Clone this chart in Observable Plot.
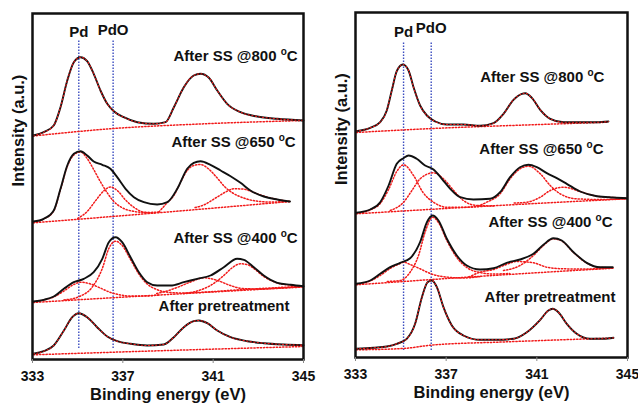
<!DOCTYPE html>
<html><head><meta charset="utf-8">
<script src="https://cdn.jsdelivr.net/npm/d3@7"></script>
<script src="https://cdn.jsdelivr.net/npm/@observablehq/plot@0.6"></script>
<style>
body{margin:0;background:#fff;}
#wrap{position:relative;width:638px;height:407px;overflow:hidden;font-family:"Liberation Sans",Arial,sans-serif;}
#wrap svg{position:absolute;top:0;overflow:visible;background:transparent;}
#wrap text{font-weight:bold;}
</style></head><body><div id="wrap"></div>
<script>
// ---- Left panel: spectra [binding energy eV, intensity a.u.] ----
const L800 = [[333.03,224],[333.5,227.3],[333.94,234],[334.24,252.3],[334.54,279],[334.83,297.3],[335.13,302.3],[335.42,298.3],[335.71,285.7],[336.01,269],[336.31,255.7],[336.6,248.3],[337.04,242.3],[337.64,237.3],[338.37,235.7],[338.89,237.3],[339.26,252.3],[339.7,272.3],[340.14,284],[340.44,285.7],[340.81,281.7],[341.18,269],[341.62,255.7],[342.21,247.3],[342.95,243],[343.84,240.7],[345,239]];
const L800base = [[333.03,223.5],[336.6,231],[340.4,235.5],[345,239]];
const L650 = [[333.03,138],[333.5,140.7],[333.94,149],[334.24,170.7],[334.54,194],[334.83,205.7],[335.13,208.3],[335.42,204],[335.71,198],[336.09,194.7],[336.45,190.7],[336.75,182.3],[337.12,170.7],[337.49,162.3],[337.93,157.3],[338.52,155],[338.97,157.3],[339.41,170.7],[339.85,190.7],[340.14,196.7],[340.44,198.3],[340.88,194.7],[341.33,189],[341.77,183.3],[342.21,176.7],[342.65,169],[343.24,163],[343.84,160],[344.4,158]];
const L650base = [[333.03,136.7],[338.97,147.5],[344.4,158]];
const L650c1 = [[333.03,137],[333.5,140.5],[333.94,148.5],[334.24,170],[334.54,193],[334.83,204.5],[335.13,207.5],[335.42,201],[335.71,190],[336.0,178],[336.3,167],[336.6,158],[336.95,152],[337.4,148.5],[338.0,147],[338.6,147.5]];
const L650c2 = [[335.0,141],[335.42,148],[335.8,159],[336.15,168.5],[336.45,172.5],[336.8,168],[337.1,160],[337.5,152],[337.9,147.5],[338.4,146.5]];
const L650c3 = [[338.6,147.5],[338.97,157],[339.26,164],[339.55,177],[339.85,189],[340.14,194],[340.44,195],[340.8,190.5],[341.18,181.5],[341.5,173],[341.9,166],[342.35,161.5],[342.9,158.5],[343.5,157.5],[344.4,158]];
const L650c4 = [[340.2,152],[340.58,154.5],[341.18,162.5],[341.55,167.5],[341.92,170.7],[342.3,170.5],[342.65,168.5],[343.1,164.5],[343.84,160],[344.4,158]];
const L400 = [[333.03,58],[333.5,59.7],[333.94,63],[334.39,70.7],[334.83,77.3],[335.27,80.7],[335.71,87.3],[336.09,100.7],[336.38,117.3],[336.68,122.3],[336.97,117.3],[337.34,102.3],[337.71,87.3],[338.08,77.3],[338.52,74],[339.11,74],[339.7,77.3],[340.29,80.7],[340.88,84],[341.47,92.3],[342.06,100.7],[342.36,99.7],[342.8,92.3],[343.24,84],[343.84,76.7],[344.43,74.7],[345,73.3]];
const L400base = [[333.03,57],[339,65],[345,72.5]];
const L400c1 = [[333.03,57.5],[333.5,59.5],[333.94,62.5],[334.39,68.5],[334.83,75],[335.13,77.3],[335.5,76],[336.0,71.5],[336.4,67.5],[336.8,65],[337.3,63.5],[338.0,63.5],[338.6,64.5]];
const L400c2 = [[334.39,59.5],[335.13,63.5],[335.64,72.3],[336.09,91],[336.38,111],[336.68,118.3],[336.97,114],[337.34,100],[337.71,85.5],[338.08,75.5],[338.5,70],[339.1,67],[339.7,66.5],[340.3,67],[342,69.5],[345,73.3]];
const L400c3 = [[338.5,66],[338.8,67.5],[339.4,72],[340.0,77.5],[340.59,81.7],[341.2,79],[341.7,74.5],[342.3,71],[343.0,70.5],[344.0,71.5],[345,73]];
const L400c4 = [[339.7,66],[340.29,68.5],[340.88,74],[341.47,84],[341.8,91],[342.21,95.7],[342.5,95],[342.8,91],[343.24,83],[343.84,76.5],[344.43,74.3],[345,73]];
const Lpre = [[333.03,5.7],[333.5,8.3],[333.94,14],[334.39,29],[334.76,42.3],[335.05,46.3],[335.42,42.3],[335.86,32.3],[336.31,23],[336.75,18.3],[337.34,15.7],[338.08,14],[338.81,15],[339.26,22.3],[339.7,32.3],[340.14,38.3],[340.37,39],[340.74,36.3],[341.18,29],[341.77,22.3],[342.51,18.3],[343.24,16.3],[344.13,15],[345,14.3]];
const Lprebase = [[333.03,4.7],[339,9],[345,13]];

// ---- Right panel ----
const R800 = [[333.03,226.3],[333.65,229.7],[334.09,235.3],[334.38,247],[334.6,267],[334.82,286.3],[335.09,293],[335.34,287],[335.56,270.3],[335.85,252],[336.15,242],[336.52,236],[337.03,233],[337.76,233],[338.5,231.7],[339.09,234.3],[339.53,243.7],[339.97,257.7],[340.34,263.7],[340.49,264.3],[340.78,259.7],[341.15,247.7],[341.59,238.7],[342.18,235.3],[342.91,235.3],[343.65,235.3],[344.16,236]];
const R800base = [[333.03,225],[336.4,229],[340.5,232.5],[344.16,235.3]];
const R650 = [[333.03,144.7],[333.65,148],[334.09,155.3],[334.46,172],[334.82,193.7],[335.12,199.3],[335.34,202],[335.7,198.7],[336.07,192],[336.44,188],[336.81,178.7],[337.18,168.7],[337.62,160.3],[338.2,158],[338.94,158.7],[339.38,165.3],[339.82,180.3],[340.26,190.3],[340.63,192.7],[341.0,190.3],[341.44,184.3],[341.88,179.3],[342.32,173.7],[342.91,166],[343.65,161.3],[344.38,160],[344.97,159.3]];
const R650base = [[333.03,143.7],[338.9,151.5],[344.97,158.7]];
const R650c1 = [[333.03,144],[333.65,147.5],[334.09,154],[334.46,168],[334.82,186],[335.12,192.7],[335.56,182],[335.97,165.3],[336.44,155.3],[337.03,150.3],[337.9,150.3],[338.6,151.5]];
const R650c2 = [[334.53,147],[335.12,155.3],[335.49,167],[335.85,178.7],[336.44,184.7],[336.88,178.7],[337.33,167],[337.76,157],[338.35,152],[339.09,151.5]];
const R650c3 = [[338.4,151.5],[338.79,155.3],[339.38,163.7],[339.82,178.7],[340.26,188.7],[340.63,191.3],[341.15,183.7],[341.59,172],[342.03,163.7],[342.76,158.7],[343.79,158],[344.97,158.7]];
const R650c4 = [[340.0,154.5],[340.56,155.3],[341.15,160.3],[341.59,167],[342.18,170.3],[342.91,166],[343.65,161.3],[344.38,160],[344.97,159.3]];
const R400 = [[333.03,73.7],[333.65,77],[334.09,83.7],[334.53,90.3],[334.97,94.7],[335.41,99.3],[335.85,115.3],[336.15,135.3],[336.4,142],[336.66,137],[337.03,118.7],[337.47,102],[337.91,92],[338.5,88],[339.09,89.3],[339.67,94.7],[340.26,98],[340.85,103.7],[341.29,112.7],[341.73,119.3],[342.1,117],[342.62,105.3],[343.2,94.7],[343.79,90.3],[344.35,90.3]];
const R400base = [[333.03,72.7],[338.7,81.5],[344.35,89.3]];
const R400c1 = [[333.03,73],[333.65,76.5],[334.09,82],[334.53,89],[334.97,94],[335.12,95.3],[335.41,93],[335.85,88.7],[336.3,84],[336.73,81.3],[337.76,79.5],[338.5,81]];
const R400c2 = [[334.4,76],[334.97,77],[335.41,85.3],[335.78,102],[336.07,125.3],[336.4,140.3],[336.66,135],[337.03,117],[337.47,100],[337.91,90],[338.5,85],[339.1,83.5],[339.8,84]];
const R400c3 = [[338.0,80.5],[338.5,85.3],[339.09,88],[339.6,92.5],[340.1,96],[340.85,94.7],[341.44,90.3],[342.18,88.7],[343.0,88.5],[344.35,89.5]];
const R400c4 = [[339.53,87],[340.26,92],[340.85,102],[341.29,112],[341.73,118.7],[342.1,116.5],[342.62,105],[343.2,94.5],[343.79,90],[344.35,89.8]];
const Rpre = [[333.03,8.7],[333.79,9.7],[334.38,11],[334.82,13.7],[335.26,18.7],[335.63,33.7],[335.93,60.3],[336.18,75.3],[336.37,77],[336.59,70.3],[336.88,50.3],[337.25,32],[337.76,22],[338.5,17.7],[339.23,17.7],[339.97,18.7],[340.56,25.3],[341.15,37.7],[341.51,47],[341.7,48.7],[341.95,45.3],[342.32,33.7],[342.76,23.7],[343.35,18.7],[343.94,18.7],[344.38,19.7]];
const Rprebase = [[333.03,7.7],[335.1,9],[336.4,12.5],[339.5,15.5],[344.38,19.5]];

// ---- Labels ----
const sampleLabels = ["After SS @800 oC","After SS @650 oC","After SS @400 oC","After pretreatment"];
const labelAnchorsL = [[344.74,303],[344.65,217],[344.74,121],[344.38,53]];
const labelAnchorsR = [[343.98,280],[343.94,208],[344.34,135],[344.47,60]];
const refNames = ["Pd","PdO"];
const refEnergyL = [335.05,336.57];
const refEnergyR = [335.12,336.34];
const refLabelYL = [327,329];
const refLabelYR = [325,329];
const xTicks = [333,337,341,345];
const xTitle = "Binding energy (eV)";
const yTitle = "Intensity (a.u.)";

const RED = "#f21a1a", BLUE = "#3b4cc0";
function rows(list){return list.flatMap(([id,pts])=>pts.map(([e,i])=>({id,e,i})));}

function panel(o){
  const spectra = rows(o.spectra), bases = rows(o.bases), comps = rows(o.comps), env = rows(o.env);
  const labels = sampleLabels.map((t,k)=>({t,e:o.anchors[k][0],i:o.anchors[k][1]}));
  const refs = refNames.map((t,k)=>({t,e:o.refE[k],i:o.refY[k]}));
  const dotted = {stroke:RED, strokeWidth:1.5, strokeDasharray:"1.3,1.9", curve:"monotone-x"};
  return Plot.plot({
    width:319, height:407,
    marginLeft:o.ml, marginRight:o.mr, marginTop:o.mt, marginBottom:o.mb,
    style:{fontFamily:'"Liberation Sans", Arial, sans-serif', background:"transparent", overflow:"visible"},
    x:{domain:[333,345]},
    y:{domain:[0,o.ymax], axis:null},
    marks:[
      Plot.ruleX(refs,{x:"e", y1:o.r1, y2:o.r2, stroke:BLUE, strokeWidth:1.4, strokeDasharray:"1.5,1.5"}),
      Plot.line(bases,{x:"e", y:"i", z:"id", ...dotted}),
      Plot.line(comps,{x:"e", y:"i", z:"id", ...dotted}),
      Plot.line(spectra,{x:"e", y:"i", z:"id", stroke:"#111", strokeWidth:1.9, curve:"monotone-x"}),
      Plot.line(env,{x:"e", y:"i", z:"id", stroke:RED, strokeWidth:1.1, strokeDasharray:"1.2,2.4", curve:"monotone-x"}),
      Plot.text(labels,{x:"e", y:"i", text:"t", textAnchor:"end", fontSize:15, fill:"#111"}),
      Plot.text(refs,{x:"e", y:"i", text:"t", fontSize:15, fill:"#111"}),
      Plot.text([yTitle],{frameAnchor:"left", dx:-14, rotate:-90, fontSize:16.5, fill:"#111"}),
      Plot.text([xTitle],{frameAnchor:"bottom", dy:40.5, fontSize:16.5, fill:"#111"}),
      Plot.frame({stroke:"#111", strokeWidth:2.5}),
      Plot.axisX({ticks:xTicks, tickSize:4, tickPadding:7.5, fontSize:14, stroke:"#888", fill:"#111", label:null, tickFormat:d=>String(d)})
    ]
  });
}

const left = panel({
  spectra:[["800",L800],["650",L650],["400",L400],["pre",Lpre]],
  bases:[["800",L800base],["650",L650base],["400",L400base],["pre",Lprebase]],
  comps:[["a1",L650c1],["a2",L650c2],["a3",L650c3],["a4",L650c4],["b1",L400c1],["b2",L400c2],["b3",L400c3],["b4",L400c4]],
  env:[["800",L800],["pre",Lpre]],
  anchors:labelAnchorsL, refE:refEnergyL, refY:refLabelYL, r1:11, r2:319,
  ml:32, mr:16, mt:13, mb:48, ymax:346
});
const right = panel({
  spectra:[["800",R800],["650",R650],["400",R400],["pre",Rpre]],
  bases:[["800",R800base],["650",R650base],["400",R400base],["pre",Rprebase]],
  comps:[["a1",R650c1],["a2",R650c2],["a3",R650c3],["a4",R650c4],["b1",R400c1],["b2",R400c2],["b3",R400c3],["b4",R400c4]],
  env:[["800",R800],["pre",Rpre]],
  anchors:labelAnchorsR, refE:refEnergyR, refY:refLabelYR, r1:7, r2:316,
  ml:36, mr:11, mt:12, mb:50, ymax:345
});
left.style.left = "0px";
right.style.left = "319px";
const wrap = document.getElementById("wrap");
wrap.appendChild(left); wrap.appendChild(right);

// superscript "o" in °C labels
wrap.querySelectorAll("text").forEach(t=>{
  const m = /^(.*) oC$/.exec(t.textContent);
  if(!m) return;
  t.textContent = "";
  const ns = "http://www.w3.org/2000/svg";
  const a = document.createElementNS(ns,"tspan"); a.textContent = m[1] + " ";
  const b = document.createElementNS(ns,"tspan"); b.textContent = "o"; b.setAttribute("font-size","10"); b.setAttribute("dy","-6");
  const c = document.createElementNS(ns,"tspan"); c.textContent = "C"; c.setAttribute("dy","6");
  t.appendChild(a); t.appendChild(b); t.appendChild(c);
});
</script>
</body></html>
